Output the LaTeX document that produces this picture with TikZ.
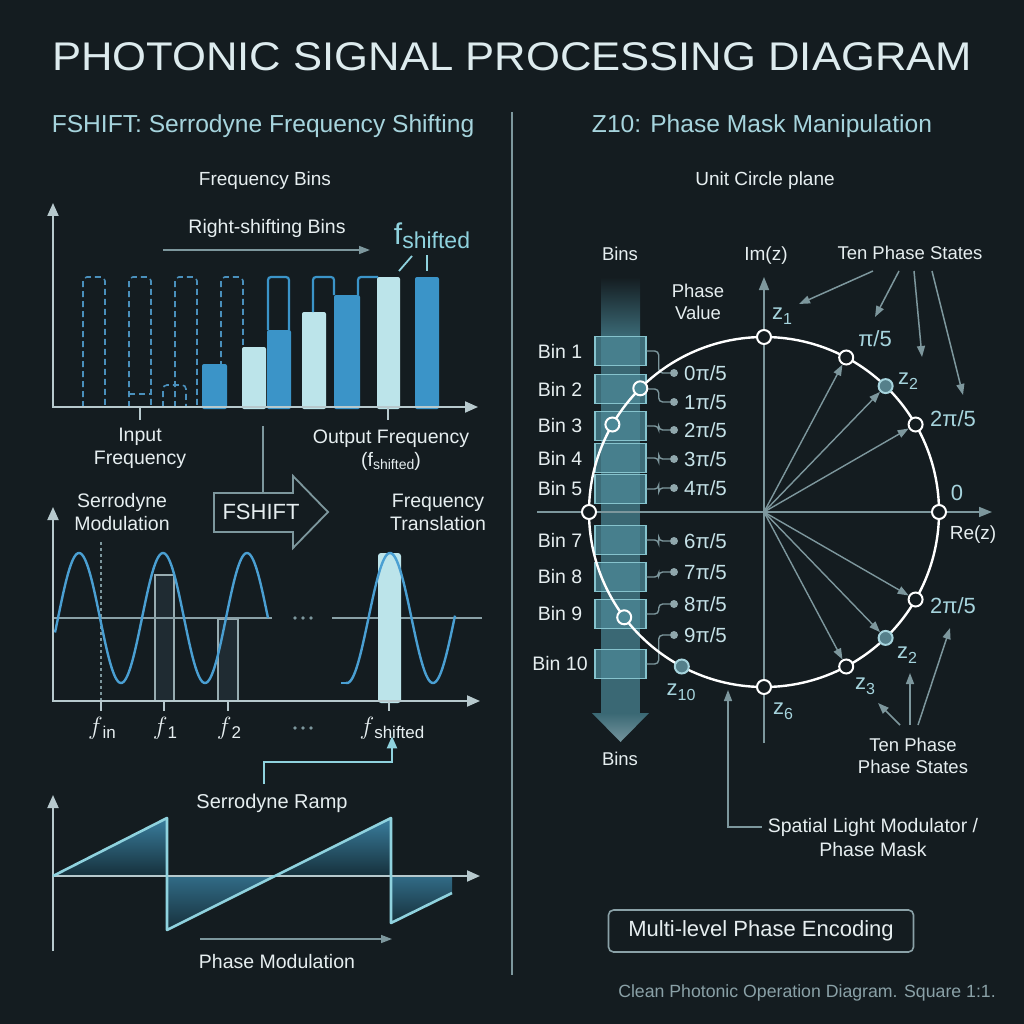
\documentclass[tikz,border=0pt]{standalone}
\usepackage{fontspec}
\setmainfont{Liberation Sans}
\usetikzlibrary{arrows.meta}
\newcommand{\myfs}[2]{\fontsize{#1}{#2}\selectfont}
\definecolor{bgc}{HTML}{141C20}
\definecolor{txt}{HTML}{E6EEF0}
\definecolor{titlec}{HTML}{DDEBEE}
\definecolor{hdr}{HTML}{A6D4DD}
\definecolor{axc}{HTML}{B7C9CD}
\definecolor{gry}{HTML}{7D979D}
\definecolor{bblue}{HTML}{3B94C8}
\definecolor{blite}{HTML}{BCE4EA}
\definecolor{dashc}{HTML}{4A90BC}
\definecolor{sinec}{HTML}{4A9FD2}
\definecolor{cyanc}{HTML}{8FD2DE}
\definecolor{band}{HTML}{3A6874}
\definecolor{boxf}{HTML}{4C8896}
\definecolor{boxd}{HTML}{86C3CD}
\definecolor{ptfill}{HTML}{55808B}
\definecolor{phc}{HTML}{C6E2E8}
\definecolor{rampA}{HTML}{3A7E9E}
\definecolor{rampB}{HTML}{16303B}
\definecolor{darkrect}{HTML}{1F2B32}
\begin{document}
\begin{tikzpicture}[x=1pt,y=-1pt,
  lbl/.style={text=txt, font=\myfs{19.5}{23}, align=center, inner sep=0},
  hdrs/.style={text=hdr, font=\myfs{24.6}{28}, inner sep=0},
  zl/.style={text=hdr, font=\myfs{22}{24}, inner sep=0},
  phl/.style={text=phc, font=\myfs{20.5}{22}, inner sep=0},
  axis/.style={draw=axc, line width=2, -{Triangle[length=13pt,width=11pt]}},
  garrow/.style={draw=gry, line width=1.5, -{Triangle[length=11pt,width=8pt]}},
  carrow/.style={draw=cyanc, line width=2, -{Triangle[length=12pt,width=10pt]}},
  vec/.style={draw=gry, line width=1.4, -{Triangle[length=11pt,width=8pt]}},
  ghost/.style={draw=dashc, line width=1.6, dash pattern=on 6pt off 4pt, rounded corners=4},
  outl/.style={draw=bblue, line width=2.2, rounded corners=3},
  binbox/.style={draw=boxd, fill=boxf, fill opacity=0.75, line width=1.4, minimum width=51, minimum height=29, inner sep=0},
  conn/.style={draw=gry, line width=1.4, rounded corners=4},
  pdot/.style={circle, fill=gry!85!white, minimum size=8, inner sep=0},
  pt/.style={circle, draw=white, fill=bgc, line width=2, minimum size=14, inner sep=0},
  ptf/.style={circle, draw=hdr, fill=ptfill, line width=2, minimum size=14, inner sep=0}
]
\fill[bgc] (0,0) rectangle (1024,1024);
\useasboundingbox (0,0) rectangle (1024,1024);

% ---------- title and headers ----------
\node[text=titlec, font=\myfs{40}{44}, inner sep=0] (title) at (512,57) {\scalebox{1.09}[1]{PHOTONIC SIGNAL PROCESSING DIAGRAM}};
\draw[gry, line width=1.6] (512,112) -- (512,975);
\node[hdrs] (hl) at (263,126) {FSHIFT: Serrodyne Frequency Shifting};
\node[hdrs] (hr) at (762,126) {Z10: Phase Mask Manipulation};
\node[lbl, font=\myfs{19}{22}] (fbins) at (265,181) {Frequency Bins};
\node[lbl, font=\myfs{19}{22}] (ucp) at (765,181) {Unit Circle plane};

% ---------- top chart: frequency bins ----------
\foreach \a/\b in {83/105,129/151,175/197,221/243}
  \draw[ghost] (\a,407) -- (\a,277) -- (\b,277) -- (\b,407);
\draw[ghost] (129,394) -- (151,394);
\draw[ghost] (163,407) -- (163,385) -- (186,385) -- (186,407);
\fill[bblue, rounded corners=2] (202,364) rectangle (227,409);
\fill[blite, rounded corners=2] (242,347) rectangle (266,409);
\fill[bblue, rounded corners=2] (267,330) rectangle (291,409);
\fill[blite, rounded corners=2] (302,312) rectangle (326,409);
\fill[bblue, rounded corners=2] (334,295) rectangle (360,409);
\fill[blite, rounded corners=2] (377,277) rectangle (400,409);
\fill[bblue, rounded corners=2] (415,277) rectangle (439,409);
\draw[outl] (268,330) -- (268,277) -- (289,277) -- (289,330);
\draw[outl] (313,312) -- (313,277) -- (334,277) -- (334,295);
\draw[outl] (358,295) -- (358,277) -- (378,277);
\draw[axis] (53,407) -- (53,203);
\draw[axis] (52,407) -- (478,407);
\node[lbl] (rsbl) at (267,228) {Right-shifting Bins};
\coordinate (rs1) at (163,250);
\coordinate (rs2) at (370,250);
\draw[garrow] (rs1) -- (rs2);
\node[text=cyanc, inner sep=0] (fsh) at (432,236) {\myfs{30}{30}f\raisebox{-4pt}{\myfs{23}{23}shifted}};
\draw[cyanc, line width=1.8] (399,271) -- (412,256);
\draw[cyanc, line width=1.8] (427,255) -- (427,271);
\draw[axc, line width=2] (140,407) -- (140,420);
\draw[axc, line width=2] (388,407) -- (388,420);
\node[lbl] (inf) at (140,448.5) {Input\\Frequency};
\node[lbl] (outf) at (391,450) {Output Frequency\\(f\raisebox{-3pt}{\myfs{14}{14}shifted})};

% ---------- FSHIFT arrow ----------
\coordinate (fsv) at (263,426);
\draw[gry, line width=1.6] (fsv) -- (263,493);
\draw[gry, line width=1.8, line join=miter] (214,493) -- (293,493) -- (293,476) -- (328,512) -- (293,548) -- (293,532) -- (214,532) -- cycle;
\node[lbl, font=\myfs{22}{24}] (fsn) at (261,512) {FSHIFT};

% ---------- middle chart: serrodyne modulation ----------
\node[lbl] (smod) at (122,512) {Serrodyne\\Modulation};
\node[lbl] (ftr) at (438,512) {Frequency\\Translation};
\filldraw[fill=darkrect, draw=gry!80!white, line width=1.3] (155,575) rectangle (174,701);
\filldraw[fill=darkrect, draw=gry!80!white, line width=1.3] (218,619) rectangle (238,701);
\draw[gry, line width=1.5, dashed] (101,542) -- (101,701);
\draw[gry!90!white, line width=1.5] (53,618) -- (272,618);
\draw[gry!90!white, line width=1.5] (332,618) -- (482,618);
\draw[sinec, line width=2.4] plot[domain=55:268, samples=160, smooth] (\x, {618 - 65*sin((\x-58)/84*360)});
\fill[blite, rounded corners=3] (378,553) rectangle (401,703);
\draw[sinec, line width=2.4] (341,683) -- (346,683);
\draw[sinec, line width=2.4] plot[domain=346:455, samples=120, smooth] (\x, {618 + 65*cos((\x-347)/86*360)});
\fill[blite] (378,600) rectangle (401,700);
\draw[axis] (53,701) -- (53,507);
\draw[axis] (52,701) -- (480,701);
\foreach \xx in {101,164,228,389} \draw[axc, line width=2] (\xx,701) -- (\xx,711);
\foreach \dx in {-8,0,8} {\fill[gry] (303+\dx,618) circle (1.9); \fill[gry] (303+\dx,728) circle (1.9);}
\node[lbl, font=\myfs{24}{24}] (lfin) at (102,728) {$f$\raisebox{-4pt}{\myfs{17}{17}in}};
\node[lbl, font=\myfs{24}{24}] (lf1) at (165,728) {$f$\raisebox{-4pt}{\myfs{17}{17}1}};
\node[lbl, font=\myfs{24}{24}] (lf2) at (229,728) {$f$\raisebox{-4pt}{\myfs{17}{17}2}};
\node[lbl, font=\myfs{24}{24}] (lfs) at (392,728) {$f$\raisebox{-4pt}{\myfs{17}{17}shifted}};

% ---------- serrodyne ramp ----------
\node[lbl, font=\myfs{20}{22}] (ramp) at (272,803) {Serrodyne Ramp};
\coordinate (rampc) at (264,784);
\draw[carrow] (rampc) -- (264,762) -| ([yshift=3pt]lfs.south);
\shade[top color=rampA, bottom color=rampB] (53,876) -- (167,818) -- (167,876) -- cycle;
\shade[top color=rampA, bottom color=rampB] (275,876) -- (391,818) -- (391,876) -- cycle;
\shade[top color=rampA!85!black, bottom color=rampB] (167,876) -- (167,930) -- (275,876) -- cycle;
\shade[top color=rampA!85!black, bottom color=rampB] (391,876) -- (391,923) -- (452,893) -- (452,876) -- cycle;
\draw[axc, line width=2] (53,951) -- (53,876);
\draw[axis] (53,876) -- (53,795);
\draw[axis] (52,876) -- (480,876);
\draw[cyanc, line width=2.6, line join=round] (53,876) -- (167,818) -- (167,930) -- (391,818) -- (391,923) -- (452,893);
\coordinate (pm1) at (200,939);
\coordinate (pm2) at (392,939);
\draw[garrow] (pm1) -- (pm2);
\node[lbl] (phmod) at (277,962) {Phase Modulation};

% ---------- right: bins column ----------
\shade[top color=bgc, bottom color=band] (601,277) rectangle (640,335);
\fill[band] (601,334) rectangle (640,714);
\shade[top color=band, bottom color=band!70!white] (592,713) -- (649,713) -- (620.5,742) -- cycle;
\node[lbl, font=\myfs{18.5}{22}] (binst) at (620,254) {Bins};
\node[lbl, font=\myfs{18.5}{22}] (binsb) at (620,759) {Bins};
\node[lbl, font=\myfs{18.5}{22}] (pv) at (698,302) {Phase\\Value};
\foreach \n/\yy in {1/351,2/389,3/426,4/458,5/489,7/540,8/577,9/614,10/664} {
  \node[binbox] (b\n) at (620.5,\yy) {};
  \node[lbl] (bl\n) at (560,\yy) {Bin \n};
}
\foreach \k/\yy in {0/373,1/402,2/430,3/459,4/488,6/541,7/572,8/604,9/635} {
  \node[pdot] (d\k) at (674,\yy) {};
  \node[phl, anchor=west] (pl\k) at (684,\yy) {\k π/5};
}
\foreach \bb/\dd in {1/0,2/1,3/2,4/3,5/4,7/6,8/7,9/8,10/9}
  \draw[conn] (b\bb.east) -- ++(12,0) |- (d\dd);

% ---------- unit circle ----------
\coordinate (O) at (764,512);
\draw[gry, line width=1.6] (537,512) -- (975,512);
\draw[gry, line width=1.6, -{Triangle[length=13pt,width=10pt]}] (975,512) -- (992,512);
\draw[gry, line width=1.6, -{Triangle[length=13pt,width=10pt]}] (764,743) -- (764,277);
\draw[white, line width=2.4] (O) circle[radius=175pt];
\node[pt] (pz1) at (764,337) {};
\node[pt] (pa) at (846.2,357.5) {};
\node[ptf] (pb) at (885.6,386.1) {};
\node[pt] (pc) at (915.6,424.5) {};
\node[pt] (p0) at (939,512) {};
\node[pt] (pd) at (915.6,599.5) {};
\node[ptf] (pe) at (885.6,637.9) {};
\node[pt] (pf) at (846.2,666.5) {};
\node[pt] (pz6) at (764,687) {};
\node[ptf] (pz10) at (681.8,666.5) {};
\node[pt, fill=boxf] (pg) at (624.2,617.3) {};
\node[pt] (ph) at (589,512) {};
\node[pt, fill=boxf] (pi) at (612.4,424.5) {};
\node[pt, fill=boxf] (pj) at (640.3,388.3) {};
\foreach \t in {pa,pb,pc,pd,pe,pf} \draw[vec] (O) -- (\t);

\node[lbl, font=\myfs{19}{22}] (imz) at (766,256) {Im(z)};
\node[lbl, font=\myfs{19}{22}] (rez) at (973,535) {Re(z)};
\node[zl] (l0) at (957,493) {0};
\node[zl] (lz1) at (782,316) {z\raisebox{-5pt}{\myfs{16}{16}1}};
\node[zl] (la) at (875,339) {π/5};
\node[zl] (lb) at (908,381) {z\raisebox{-5pt}{\myfs{16}{16}2}};
\node[zl] (lc) at (953,419) {2π/5};
\node[zl] (ld) at (953,606) {2π/5};
\node[zl] (le) at (907,655) {z\raisebox{-5pt}{\myfs{16}{16}2}};
\node[zl] (lf) at (865,686) {z\raisebox{-5pt}{\myfs{16}{16}3}};
\node[zl] (lz6) at (783,711) {z\raisebox{-5pt}{\myfs{16}{16}6}};
\node[zl] (lz10) at (681,692) {z\raisebox{-5pt}{\myfs{16}{16}10}};

% ---------- annotations ----------
\node[lbl, font=\myfs{18.5}{22}] (tps) at (910,253) {Ten Phase States};
\coordinate (t1) at (873,271); \coordinate (e1) at (799,304);
\coordinate (t2) at (899,271); \coordinate (e2) at (875,317);
\coordinate (t3) at (914,271); \coordinate (e3) at (922,357);
\coordinate (t4) at (932,271); \coordinate (e4) at (963,395);
\draw[garrow] (t1) -- (e1);
\draw[garrow] (t2) -- (e2);
\draw[garrow] (t3) -- (e3);
\draw[garrow] (t4) -- (e4);

\node[lbl, font=\myfs{18.5}{22}] (tps2) at (913,756) {Ten Phase\\Phase States};
\coordinate (s1) at (900,725); \coordinate (f1) at (878,703);
\coordinate (s2) at (910,725); \coordinate (f2) at (910,673);
\coordinate (s3) at (918,725); \coordinate (f3) at (950,628);
\draw[garrow] (s1) -- (f1);
\draw[garrow] (s2) -- (f2);
\draw[garrow] (s3) -- (f3);

\node[lbl] (slm1) at (873,827) {Spatial Light Modulator /};
\node[lbl] (slm2) at (873,850) {Phase Mask};
\coordinate (slmtip) at (728,690);
\draw[garrow] ([xshift=-6pt]slm1.west) -| (slmtip);

\node[draw=gry!90!white, line width=1.6, rounded corners=5, minimum width=305, minimum height=42, text=txt, font=\myfs{22}{24}, inner sep=0] (mlpe) at (761,931) {Multi-level Phase Encoding};
\node[text=gry!90!white, font=\myfs{17.7}{20}, inner sep=0] (foot) at (807,993) {Clean Photonic Operation Diagram. Square 1:1.};
\end{tikzpicture}
\end{document}
